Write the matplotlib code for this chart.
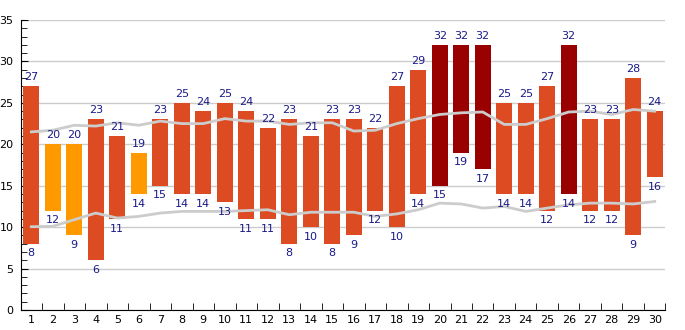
import matplotlib.pyplot as plt
from matplotlib.ticker import MultipleLocator

# daily temperature ranges
days = list(range(1, 31))
t_max = [27, 20, 20, 23, 21, 19, 23, 25, 24, 25, 24, 22, 23, 21, 23,
         23, 22, 27, 29, 32, 32, 32, 25, 25, 27, 32, 23, 23, 28, 24]
t_min = [8, 12, 9, 6, 11, 14, 15, 14, 14, 13, 11, 11, 8, 10, 8,
         9, 12, 10, 14, 15, 19, 17, 14, 14, 12, 14, 12, 12, 9, 16]
avg_high = [21.5, 21.7, 22.3, 22.2, 22.6, 22.3, 22.8, 22.5, 22.5, 23.1,
            22.8, 22.8, 22.4, 22.6, 22.6, 21.6, 21.7, 22.5, 23.1, 23.6,
            23.8, 23.9, 22.4, 22.4, 23.1, 23.9, 24.0, 23.6, 24.2, 24.0]
avg_low = [10.05, 10.1, 10.9, 11.7, 11.1, 11.3, 11.7, 11.9, 11.9, 11.9,
           12.0, 12.1, 11.5, 11.8, 11.8, 11.8, 11.3, 11.6, 12.1, 12.9,
           12.8, 12.3, 12.5, 11.9, 12.3, 12.7, 12.9, 12.9, 12.8, 13.1]

def bar_color(v):
    if v <= 20:
        return '#ff9900'
    if v >= 30:
        return '#990000'
    return '#dd4b22'

fig = plt.figure(figsize=(6.85, 3.3), dpi=100)
ax = fig.add_axes([0.030, 0.0606, 0.9415, 0.8787])

heights = [hi - lo for hi, lo in zip(t_max, t_min)]
ax.bar(days, heights, bottom=t_min, width=0.73,
       color=[bar_color(v) for v in t_max], zorder=2)
ax.plot(days, avg_high, color='#cccccc', lw=2, zorder=3)
ax.plot(days, avg_low, color='#cccccc', lw=2, zorder=3)

txt = '#1a1a88'
for d, hi, lo in zip(days, t_max, t_min):
    ax.annotate(str(hi), (d, hi), xytext=(0, 6.5), textcoords='offset points',
                ha='center', va='center', fontsize=8, color=txt, zorder=4)
    ax.annotate(str(lo), (d, lo), xytext=(0, -7), textcoords='offset points',
                ha='center', va='center', fontsize=8, color=txt, zorder=4)

ax.set_xlim(0.5, 30.5)
ax.set_ylim(0, 35)
ax.yaxis.set_major_locator(MultipleLocator(5))
ax.yaxis.set_minor_locator(MultipleLocator(1))
ax.set_xticks(days)
ax.set_xticks([d + 0.5 for d in range(0, 31)], minor=True)
ax.tick_params(axis='x', which='major', length=0, labelsize=8, pad=3.5)
ax.tick_params(axis='x', which='minor', direction='in', length=5)
ax.tick_params(axis='y', which='major', direction='in', length=5, labelsize=8, pad=5)
ax.tick_params(axis='y', which='minor', direction='in', length=4)
ax.grid(axis='y', color='#cccccc', lw=1, zorder=0)
ax.set_axisbelow(True)
for s in ['top', 'right']:
    ax.spines[s].set_visible(False)

fig.savefig('out.png', dpi=100)
